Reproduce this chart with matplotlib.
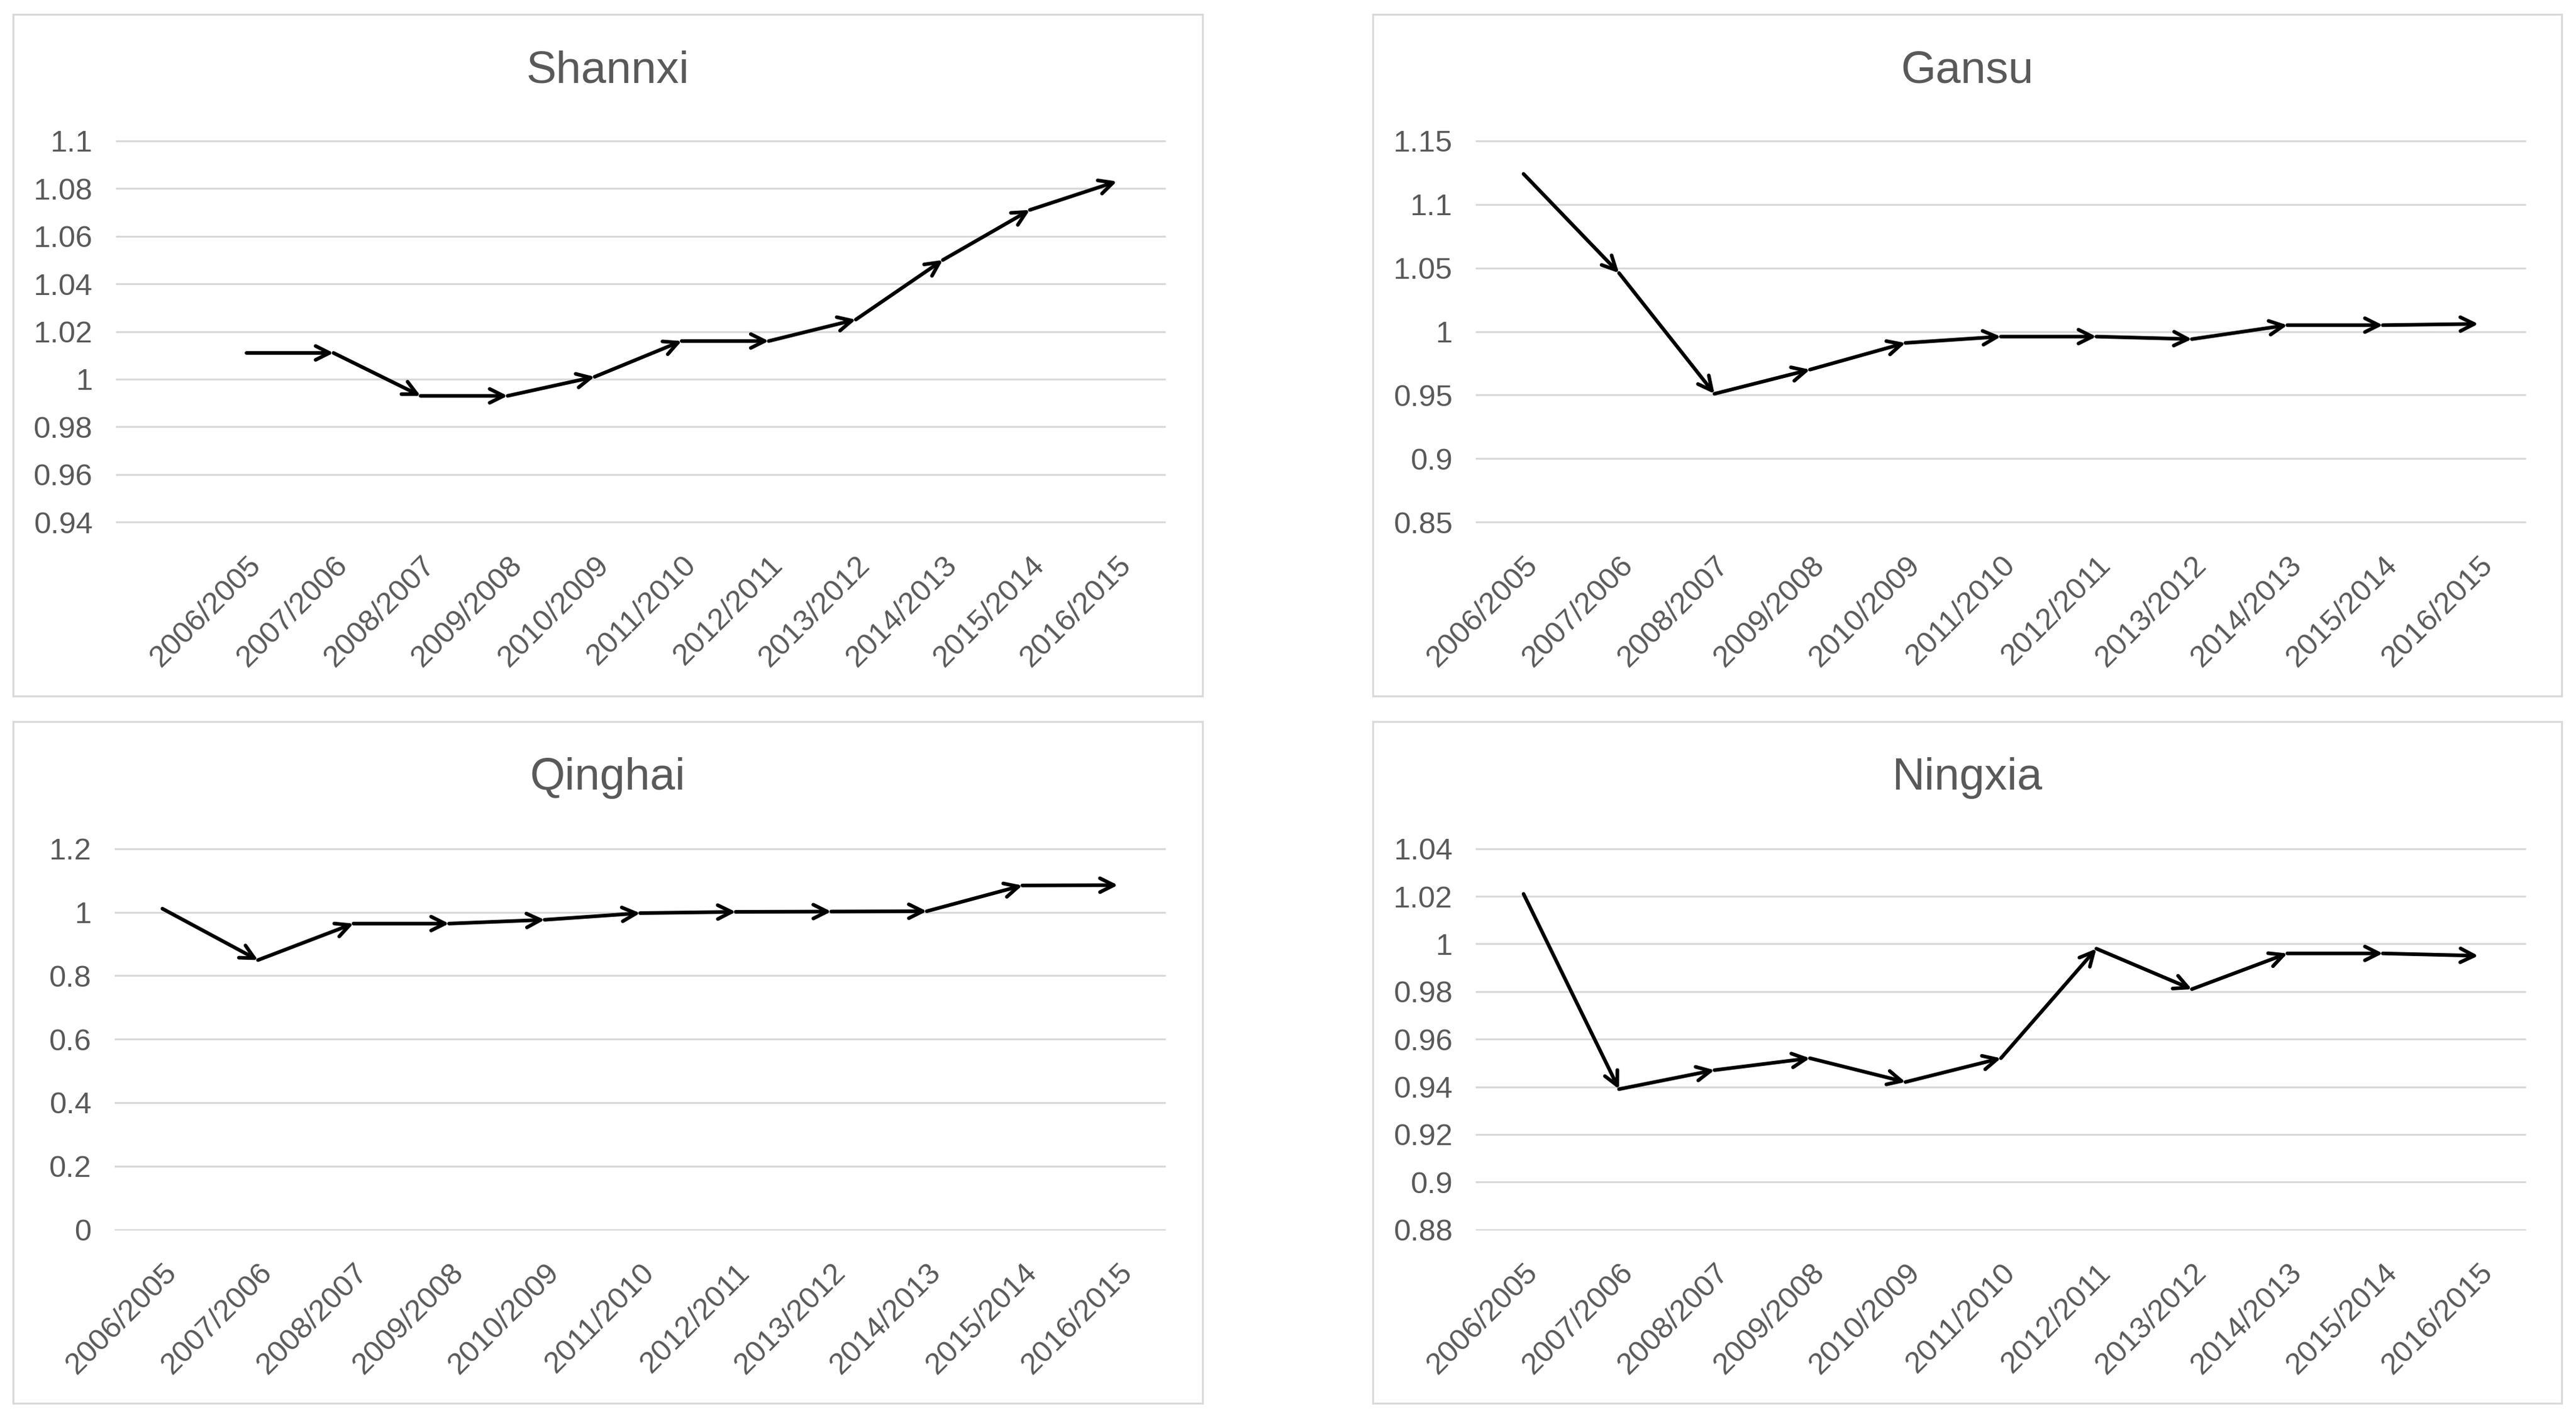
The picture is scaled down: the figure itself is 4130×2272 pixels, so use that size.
import matplotlib.pyplot as plt
from matplotlib.patches import Rectangle
from matplotlib.transforms import ScaledTranslation

periods = ['2006/2005', '2007/2006', '2008/2007', '2009/2008', '2010/2009', '2011/2010',
           '2012/2011', '2013/2012', '2014/2013', '2015/2014', '2016/2015']

shannxi = [1.011, 1.011, 0.993, 0.993, 1.001, 1.016, 1.016, 1.025, 1.050, 1.071, 1.083]
gansu = [1.124, 1.046, 0.951, 0.970, 0.991, 0.996, 0.996, 0.994, 1.005, 1.005, 1.006]
qinghai = [1.011, 0.849, 0.964, 0.964, 0.976, 0.997, 1.001, 1.002, 1.003, 1.084, 1.085]
ningxia = [1.021, 0.939, 0.947, 0.952, 0.942, 0.952, 0.998, 0.981, 0.996, 0.996, 0.995]

shannxi_ticks = [0.94, 0.96, 0.98, 1.0, 1.02, 1.04, 1.06, 1.08, 1.1]
gansu_ticks = [0.85, 0.9, 0.95, 1.0, 1.05, 1.1, 1.15]
qinghai_ticks = [0, 0.2, 0.4, 0.6, 0.8, 1.0, 1.2]
ningxia_ticks = [0.88, 0.9, 0.92, 0.94, 0.96, 0.98, 1.0, 1.02, 1.04]

plt.rcParams['font.family'] = ['Liberation Sans', 'DejaVu Sans']
grey = '#595959'
light = '#d9d9d9'

fig = plt.figure(figsize=(41.3, 22.72), dpi=100)

# name, values, ticks, xlim, axes rect, panel box
panels = [
    ('Shannxi', shannxi, shannxi_ticks, (-1.5, 10.56), [0.0450, 0.6307, 0.4075, 0.2707], [0.0051, 0.5088, 0.4617, 0.4811]),
    ('Gansu', gansu, gansu_ticks, (-0.5, 10.5), [0.5729, 0.6307, 0.4077, 0.2707], [0.5329, 0.5088, 0.4615, 0.4811]),
    ('Qinghai', qinghai, qinghai_ticks, (-0.5, 10.5), [0.0445, 0.1314, 0.4080, 0.2705], [0.0051, 0.0097, 0.4617, 0.4811]),
    ('Ningxia', ningxia, ningxia_ticks, (-0.5, 10.5), [0.5729, 0.1314, 0.4077, 0.2705], [0.5329, 0.0097, 0.4615, 0.4811]),
]

for name, vals, ticks, xl, rect, box in panels:
    fig.add_artist(Rectangle((box[0], box[1]), box[2], box[3], transform=fig.transFigure,
                             fill=False, ec=light, lw=2.2))
    fig.text(box[0] + box[2] / 2, box[1] + box[3] - 0.040, name, ha='center', va='center',
             fontsize=52, color=grey)

    ax = fig.add_axes(rect)
    x = list(range(len(periods)))
    for i in range(1, len(vals)):
        ax.annotate('', xy=(x[i], vals[i]), xytext=(x[i - 1], vals[i - 1]),
                    arrowprops=dict(arrowstyle='->', color='black', lw=4.2,
                                    mutation_scale=40, shrinkA=0, shrinkB=0))
    rng = ticks[-1] - ticks[0]
    ax.set_ylim(ticks[0] - rng * 0.003, ticks[-1] + rng * 0.003)
    ax.set_xlim(*xl)
    ax.set_yticks(ticks)
    ax.set_yticklabels([f'{t:g}' for t in ticks])
    ax.set_xticks(x)
    ax.set_xticklabels(periods, rotation=45, ha='right', va='top', rotation_mode='anchor')
    for lbl in ax.get_xticklabels():
        lbl.set_transform(lbl.get_transform() + ScaledTranslation(0.06, 0, fig.dpi_scale_trans))
    ax.grid(axis='y', color=light, lw=2.2)
    ax.set_axisbelow(True)
    for s in ax.spines.values():
        s.set_visible(False)
    ax.tick_params(axis='both', length=0, labelsize=35, colors=grey)
    ax.tick_params(axis='y', pad=27)
    ax.tick_params(axis='x', pad=32)

fig.savefig('out.png', dpi=100)
